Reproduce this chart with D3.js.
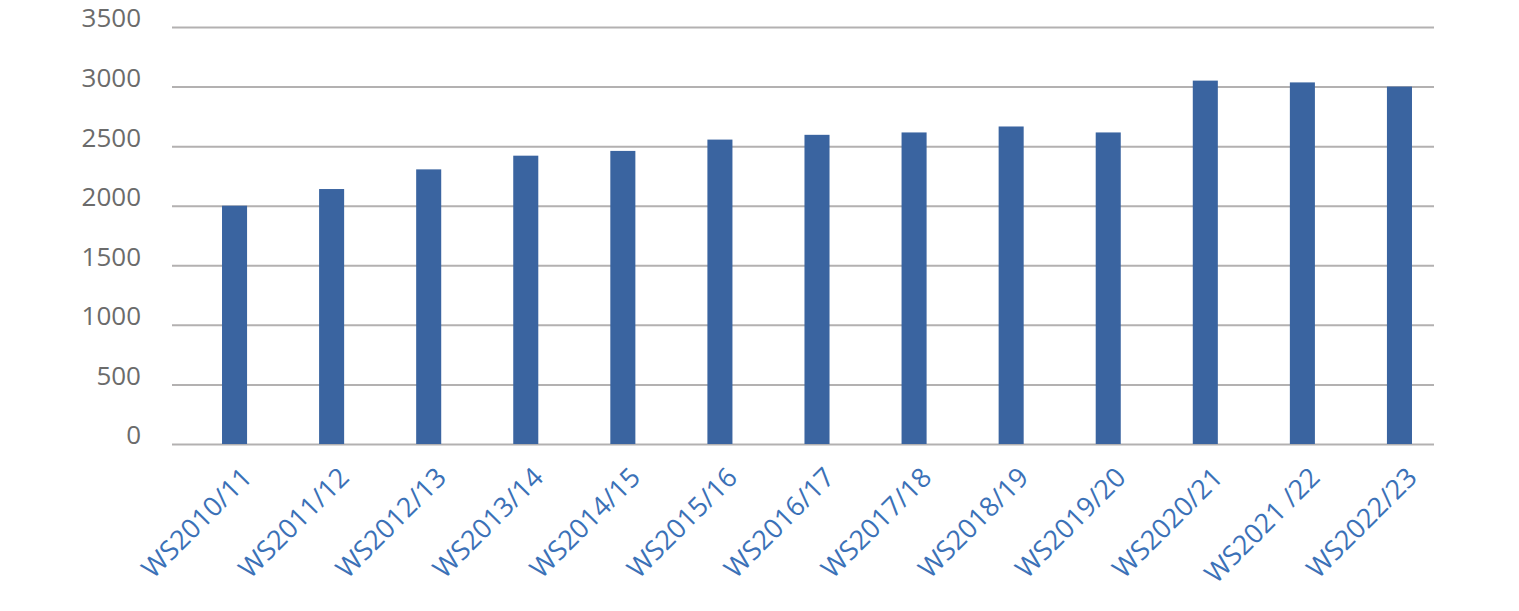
<!DOCTYPE html>
<html>
<head>
<meta charset="utf-8">
<script src="https://cdn.jsdelivr.net/npm/d3@7"></script>
<style>
    html, body { margin: 0; padding: 0; background: #fff; }
    svg { display: block; }
</style>
</head>
<body>
<svg></svg>
<script>
// 학기별 데이터
const semesters = ['WS2010/11', 'WS2011/12', 'WS2012/13', 'WS2013/14', 'WS2014/15', 'WS2015/16',
    'WS2016/17', 'WS2017/18', 'WS2018/19', 'WS2019/20', 'WS2020/21', 'WS2021 /22', 'WS2022/23'];
const counts = [2000, 2140, 2305, 2420, 2460, 2555, 2595, 2615, 2665, 2615, 3050, 3035, 3000];
const yTicks = [0, 500, 1000, 1500, 2000, 2500, 3000, 3500];

const width = 1519;
const height = 611;

const svg = d3.select('svg')
    .attr('width', width)
    .attr('height', height);

// 스케일
const y = d3.scaleLinear()
    .domain([0, 3500])
    .range([444, 27]);

const x = d3.scaleBand()
    .domain(semesters)
    .range([186, 1448])
    .paddingInner(0.742)
    .paddingOuter(0.371);

const gridLeft = 172;
const gridRight = 1434;

// 격자선 + y축 레이블
const yAxis = svg.append('g')
    .attr('class', 'y-axis')
    .call(d3.axisLeft(y)
        .tickValues(yTicks)
        .tickFormat(d3.format('d'))
        .tickSize(0)
        .tickPadding(0));

yAxis.select('.domain').remove();

yAxis.selectAll('.tick line')
    .attr('x1', gridLeft)
    .attr('x2', gridRight)
    .attr('stroke', '#b3b1b1')
    .attr('stroke-width', 2);

yAxis.selectAll('.tick text')
    .attr('x', 141)
    .attr('dy', null)
    .attr('y', -7)
    .attr('dominant-baseline', 'middle')
    .attr('text-anchor', 'end')
    .attr('font-family', '"Open Sans", sans-serif')
    .attr('font-size', '26px')
    .attr('fill', '#6b6b6b');

// 막대
svg.append('g')
    .attr('class', 'bars')
    .selectAll('rect')
    .data(counts)
    .enter().append('rect')
    .attr('x', (d, i) => x(semesters[i]))
    .attr('y', d => y(d))
    .attr('width', x.bandwidth())
    .attr('height', d => y(0) - y(d))
    .attr('fill', '#3a64a0');

// x축 레이블 (45도 회전)
const xAxis = svg.append('g')
    .attr('class', 'x-axis')
    .attr('transform', `translate(0,${y(0)})`)
    .call(d3.axisBottom(x).tickSize(0).tickPadding(0));

xAxis.select('.domain').remove();

xAxis.selectAll('.tick text')
    .attr('y', 0)
    .attr('dy', null)
    .attr('font-family', '"Open Sans", sans-serif')
    .attr('font-size', '27px')
    .attr('fill', '#3b71b7')
    .attr('text-anchor', 'end')
    .attr('dominant-baseline', 'middle')
    .attr('transform', 'translate(14,30) rotate(-45)');
</script>
</body>
</html>
